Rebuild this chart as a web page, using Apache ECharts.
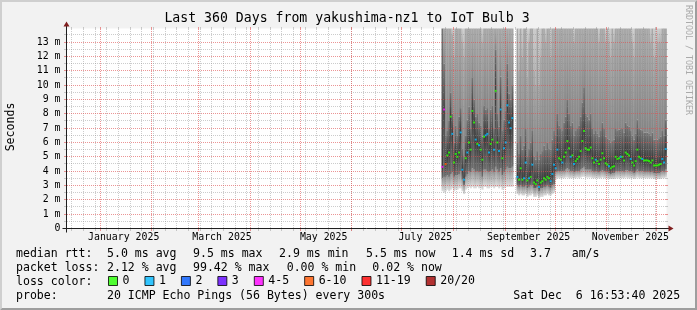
<!DOCTYPE html>
<html><head><meta charset="utf-8">
<script src="https://cdn.jsdelivr.net/npm/echarts@6/dist/echarts.min.js"></script>
<style>html,body{margin:0;padding:0;background:#f2f2f2}#c{width:697px;height:310px}</style>
</head><body><div id="c"></div>
<script>
// ================= DATA =================
const titleText = 'Last 360 Days from yakushima-nz1 to IoT Bulb 3';
const yAxisName = 'Seconds';
const watermark = 'RRDTOOL / TOBI OETIKER';
const periodStart = '2024-12-11T16:53:40Z';
const periodDays = 360;
const yMax = 13.95;                       // ms
const yMajor = [0,1,2,3,4,5,6,7,8,9,10,11,12,13];
const yMinor = [0.5,1.5,2.5,3.5,4.5,5.5,6.5,7.5,8.5,9.5,10.5,11.5,12.5,13.5];
const monthStarts = ['2025-01-01','2025-02-01','2025-03-01','2025-04-01','2025-05-01','2025-06-01',
                     '2025-07-01','2025-08-01','2025-09-01','2025-10-01','2025-11-01','2025-12-01'];
const firstSunday = '2024-12-15';
const monthLabelDates = ['2025-01-15','2025-03-15','2025-05-15','2025-07-15','2025-09-15','2025-11-15'];
const monthLabels = ['January 2025','March 2025','May 2025','July 2025','September 2025','November 2025'];

// loss legend
const lossLabels = ['0','1','2','3','4-5','6-10','11-19','20/20'];
const lossColors = ['#26ff00','#00b8ff','#0059ff','#5e00ff','#ff00ff','#ff5500','#ff0000','#a10000'];

// daily rows (day index since period start), values in ms
// segment 1
const seg1Start = 225;
const seg1Med  = [4.3,8.3,4.5,5.1,5.3,7.8,6.6,4.6,5.2,5.0, 5.3,6.7,4.1,3.4,4.9,5.3,6.0,5.5,8.2,7.4,
                  6.2,5.9,5.8,5.5,4.8,6.4,6.5,6.6,5.3,5.9, 6.2,5.5,9.6,6.0,5.4,8.3,4.9,5.6,6.0,8.6, 7.4,7.0,7.7];
const seg1Loss = [4,4,5,0,0,0,1,0,0,0, 0,1,1,1,0,1,0,0,0,0, 1,0,1,0,0,0,1,1,1,0, 0,1,0,0,1,1,0,1,1,1, 1,1,1];
const seg1Lo   = [2.6,2.5,2.6,2.7,2.6,2.7,2.8,2.6,2.7,2.7, 2.8,2.8,2.6,2.4,2.7,2.8,2.9,2.8,2.9,2.8,
                  2.8,2.9,2.8,2.8,2.7,2.9,2.9,2.8,2.8,2.9, 2.9,2.8,2.9,2.9,2.8,2.9,2.7,2.8,2.9,2.9, 2.9,2.9,2.9];
const seg1P5   = [3.5,3.6,3.6,3.7,3.6,3.8,3.9,3.6,3.7,3.7, 3.8,4.0,3.4,3.0,3.6,3.8,4.0,3.9,4.2,4.1,
                  3.9,4.0,3.9,3.9,3.6,4.1,4.1,4.0,3.9,4.0, 4.1,3.9,4.3,4.1,3.9,4.2,3.7,3.9,4.1,4.3, 4.2,4.2,4.3];
const seg1P12  = [20,11.5,6.5,6.8,7.5,9.5,8.0,6.0,7.2,6.5, 7.8,8.4,5.6,5.0,6.5,7.6,8.5,7.0,10.5,9.0,
                  7.8,8.0,7.4,7.2,6.4,8.6,8.3,8.4,7.0,8.3, 8.6,7.0,12.5,8.0,7.1,10.6,6.8,7.6,8.2,11.5, 9.4,9.0,10.0];
const seg1P15  = [20,20,14,16,20,20,13.5,12,20,15, 20,20,13,12,15,20,20,14.5,20,20,
                  18,20,15,16,13,20,20,20,15,20, 20,16,20,20,15,20,15,20,20,20, 20,20,20];
// segment 2
const seg2Start = 270;
const seg2Med  = [3.6,3.4,4.2,3.4,3.5,4.6,3.35,3.5,3.6,4.45, 3.2,3.1,3.35,2.9,3.2,3.3,3.5,3.4,3.6,3.5,
                  3.3,3.8,4.45,4.2,5.5,4.9,4.8,4.6,5.0,5.3, 6.1,5.6,5.0,5.1,4.5,4.7,4.85,5.0,5.4,6.1,
                  6.8,5.6,5.5,5.5,5.65,4.9,4.6,4.8,4.7,4.5, 4.8,5.25,4.9,4.55,4.45,4.35,4.2,4.3,4.35,5.0,
                  4.85,4.9,5.0,5.0,4.75,5.3,5.2,5.1,4.85,4.6, 4.4,4.7,5.5,5.0,4.9,4.85,4.75,4.75,4.75,4.7,
                  4.6,4.75,4.4,4.4,4.4,4.45,4.5,4.85,4.6,5.55];
const seg2Loss = [1,0,0,0,1,1,0,1,0,1, 0,0,0,1,0,0,0,0,0,0, 1,1,1,1,1,0,0,1,0,0,
                  0,0,1,0,1,0,0,0,0,0, 0,0,0,0,0,0,0,1,0,0, 0,0,0,0,0,1,0,0,0,0,
                  0,0,1,0,0,0,0,0,1,0, 0,0,0,0,0,1,0,0,0,0, 0,0,0,0,0,0,0,1,1,1];
const seg2Lo   = [2.4,2.3,2.4,2.3,2.3,2.4,2.2,2.3,2.3,2.4, 2.2,2.2,2.3,2.1,2.2,2.2,2.3,2.3,2.4,2.3,
                  2.3,2.4,2.5,3.4,3.5,3.5,3.5,3.5,3.5,3.55, 3.55,3.5,3.5,3.5,3.5,3.5,3.55,3.5,3.55,3.6,
                  3.6,3.55,3.55,3.55,3.55,3.5,3.5,3.5,3.5,3.5, 3.5,3.55,3.5,3.5,3.5,3.45,3.45,3.45,3.45,3.5,
                  3.5,3.5,3.5,3.5,3.5,3.55,3.5,3.5,3.5,3.5, 3.45,3.5,3.55,3.5,3.5,3.5,3.5,3.5,3.5,3.5,
                  3.5,3.5,3.45,3.45,3.45,3.45,3.45,3.5,3.5,3.55];
const seg2P5   = [3.0,2.9,3.0,2.9,2.9,3.0,2.8,2.9,3.0,3.0, 2.8,2.8,2.9,2.6,2.8,2.8,2.9,2.9,3.0,2.9,
                  2.8,3.0,3.1,3.9,4.0,4.0,4.0,4.0,4.0,4.1, 4.2,4.1,4.0,4.0,3.9,4.0,4.0,4.0,4.1,4.2,
                  4.3,4.1,4.1,4.1,4.1,4.0,3.95,4.0,3.95,3.9, 4.0,4.05,4.0,3.95,3.9,3.85,3.8,3.85,3.85,4.0,
                  4.0,4.0,4.0,4.0,3.95,4.05,4.05,4.0,4.0,3.95, 3.85,3.95,4.1,4.0,4.0,4.0,3.95,3.95,3.95,3.95,
                  3.9,3.95,3.85,3.85,3.85,3.85,3.9,4.0,3.95,4.1];
const seg2P12  = [6.0,5.2,6.5,5.5,5.8,7.0,5.0,5.6,6.0,6.8, 5.0,4.8,5.4,4.8,5.2,5.4,5.8,5.5,6.0,5.6,
                  5.5,6.2,6.8,6.5,8.0,7.2,7.0,6.8,7.4,7.8, 9.0,8.0,7.2,7.4,6.5,6.8,7.0,7.2,7.8,8.8,
                  9.8,8.0,7.8,7.6,8.0,7.0,6.6,6.8,6.6,6.4, 6.8,7.4,7.0,6.4,6.3,6.2,6.0,6.1,6.2,7.0,
                  6.8,6.9,7.0,7.0,6.7,7.4,7.2,7.1,6.8,6.5, 6.2,6.6,7.6,7.0,6.9,6.8,6.7,6.7,6.7,6.6,
                  6.5,6.7,6.2,6.2,6.2,6.3,6.4,6.8,6.5,7.6];
const seg2P15  = [20,11,20,12,14,20,10.5,13,20,20, 11,10,15,10,12,14,20,13,20,15,
                  12,20,20,16,20,20,18,14,20,20, 20,20,16,20,13,15,20,17,20,20,
                  20,20,18,20,20,15,14,20,16,13, 15,20,20,13,14,13,12,14,13,20,
                  16,20,20,18,14,20,20,17,15,13, 12,14,20,18,16,15,15,14,16,14,
                  13,14,12,12,13,13,13,16,14,20];

// stats text
const rttLabel = 'median rtt:';
const rttStats = ['5.0 ms avg','9.5 ms max','2.9 ms min','5.5 ms now','1.4 ms sd','3.7   am/s'];
const lossLabel = 'packet loss:';
const lossStats = ['2.12 % avg','99.42 % max','0.00 % min','0.02 % now'];
const colorLabel = 'loss color:';
const probeLabel = 'probe:';
const probeText = '20 ICMP Echo Pings (56 Bytes) every 300s';
const stampText = 'Sat Dec\u00a0\u00a06 16:53:40 2025';

// ================= LAYOUT / STYLE =================
const X0 = 66.5, Y0 = 228.5, XS = 600, YS = 200;
const MONO = '"DejaVu Sans Mono", monospace';
const rttX = [107,193,279,366,451.7,530];
const lossX = [107,193,286.7,372.3];
const rowY = [254.3,267.7,281.8,296];
const gridMajor = 'rgba(222,79,79,0.6)';
const gridMinor = 'rgba(143,143,143,0.45)';
const bandColors = [
  ['#8e8e8e','#dedede'],
  ['#3a3a3a','#6e6e6e'],
  ['#747474','#3a3a3a'],
  ['#a8a8a8','#858585'],
  ['#cccccc','#b2b2b2']
];

// ================= BUILD =================
const t0 = Date.parse(periodStart);
const dayOf = s => (Date.parse(s + 'T00:00:00Z') - t0) / 864e5;
const monthStartDays = monthStarts.map(dayOf);
const monthLabelDays = monthLabelDates.map(dayOf);
const weekDays = [];
for (let d = dayOf(firstSunday); d < periodDays; d += 7) weekDays.push(d);

const rows = [];
function addSeg(start, med, loss, lo, p5, p12, p15) {
  med.forEach((m, i) => rows.push({d: start + i, med: m, loss: loss[i], lo: lo[i], p5: p5[i], p12: p12[i], p15: p15[i]}));
}
addSeg(seg1Start, seg1Med, seg1Loss, seg1Lo, seg1P5, seg1P12, seg1P15);
addSeg(seg2Start, seg2Med, seg2Loss, seg2Lo, seg2P5, seg2P12, seg2P15);

const smokeData = rows.map(r => [r.d, r.lo, r.p5, r.med, r.p12, r.p15]);

function grad(c) {
  return new echarts.graphic.LinearGradient(0, 0, 0, 1, [{offset: 0, color: c[0]}, {offset: 1, color: c[1]}]);
}
function renderSmoke(params, api) {
  const d = api.value(0);
  const v = [api.value(1), api.value(2), api.value(3), api.value(4), api.value(5), yMax];
  const x0 = api.coord([d, 0])[0], x1 = api.coord([d + 1, 0])[0];
  const children = [];
  for (let b = 0; b < 5; b++) {
    const a = Math.min(v[b], yMax), t = Math.min(v[b + 1], yMax);
    if (t <= a) continue;
    const ya = api.coord([d, a])[1], yt = api.coord([d, t])[1];
    children.push({type: 'rect', shape: {x: x0, y: yt, width: x1 - x0 + 0.35, height: ya - yt},
      style: {fill: grad(bandColors[b])}});
  }
  return {type: 'group', children};
}
// dotted grid lines, pixel-aligned so the 1-on/1-off pattern stays crisp
const vGridRenderer = color => (params, api) => {
  const v = api.value(0);
  const pb = api.coord([v, 0]), pt = api.coord([v, yMax]);
  const x = Math.floor(pb[0]) + 0.5;
  const rb = Math.floor(pb[1]), rt = Math.floor(pt[1]);
  return {type: 'group', children: [
    {type: 'line', shape: {x1: x, y1: rb + 1, x2: x, y2: rb + 3}, style: {stroke: color, lineWidth: 1}},
    {type: 'line', shape: {x1: x, y1: rt + 1, x2: x, y2: rt - 1}, style: {stroke: color, lineWidth: 1}},
    {type: 'line', shape: {x1: x, y1: rb, x2: x, y2: rt + 1}, style: {stroke: color, lineWidth: 1, lineDash: [1, 1]}}
  ]};
};
const hGridRenderer = color => (params, api) => {
  const v = api.value(1);
  const pl = api.coord([0, v]), pr = api.coord([periodDays, v]);
  const y = Math.floor(pl[1]) + 0.5;
  const cl = Math.floor(pl[0]), cr = Math.floor(pr[0]);
  return {type: 'group', children: [
    {type: 'line', shape: {x1: cl - 2, y1: y, x2: cl, y2: y}, style: {stroke: color, lineWidth: 1}},
    {type: 'line', shape: {x1: cr, y1: y, x2: cr + 2, y2: y}, style: {stroke: color, lineWidth: 1}},
    {type: 'line', shape: {x1: cl + 1, y1: y, x2: cr, y2: y}, style: {stroke: color, lineWidth: 1, lineDash: [1, 1]}}
  ]};
};
const gridSeries = (name, data, render, z) => ({name, type: 'custom', renderItem: render, data, z, silent: true, encode: {x: 0, y: 1}});

const lossSeries = lossLabels.map((name, k) => ({
  name, type: 'scatter', symbol: 'rect', symbolSize: [2, 2], z: 8,
  itemStyle: {color: lossColors[k]},
  data: rows.filter(r => r.loss === k).map(r => [r.d + 0.5, r.med]),
  silent: true
}));

const txt = (text, x, y, opt) => Object.assign({type: 'text', x, y, z: 20, silent: true,
  style: Object.assign({text, font: '11.55px ' + MONO, fill: '#000', textAlign: 'left', textVerticalAlign: 'middle'}, opt || {})});

const graphics = [
  {type: 'polygon', z: 1, shape: {points: [[0,310],[2,308],[2,2],[695,2],[697,0],[0,0]]}, style: {fill: '#cfcfcf'}},
  {type: 'polygon', z: 1, shape: {points: [[2,308],[695,308],[695,2],[697,0],[697,310],[0,310]]}, style: {fill: '#9e9e9e'}},
  txt(titleText, 347, 19, {font: '13.2px ' + MONO, textAlign: 'center'}),
  Object.assign(txt(yAxisName, 10.5, 127, {textAlign: 'center'}), {rotation: Math.PI / 2}),
  Object.assign(txt(watermark, 688, 5, {font: '8.3px ' + MONO, fill: '#aaaaaa'}), {rotation: -Math.PI / 2}),
  {type: 'line', z: 20, shape: {x1: X0 - 4, y1: Y0, x2: X0 + XS + 4, y2: Y0}, style: {stroke: '#1f1f1f', lineWidth: 1}},
  {type: 'line', z: 20, shape: {x1: X0, y1: Y0 + 4, x2: X0, y2: Y0 - YS - 4}, style: {stroke: '#1f1f1f', lineWidth: 1}},
  {type: 'polygon', z: 20, shape: {points: [[X0+XS+2, Y0-3],[X0+XS+2, Y0+3],[X0+XS+7, Y0]]}, style: {fill: '#801f1f'}},
  {type: 'polygon', z: 20, shape: {points: [[X0-3, Y0-YS-2],[X0+3, Y0-YS-2],[X0, Y0-YS-7]]}, style: {fill: '#801f1f'}},
  txt(rttLabel, 16, rowY[0]),
  ...rttStats.map((s, i) => txt(s, rttX[i], rowY[0])),
  txt(lossLabel, 16, rowY[1]),
  ...lossStats.map((s, i) => txt(s, lossX[i], rowY[1])),
  txt(colorLabel, 16, rowY[2]),
  txt(probeLabel, 16, rowY[3]),
  txt(probeText, 107, rowY[3]),
  txt(stampText, 513.3, rowY[3])
];

const chart = echarts.init(document.getElementById('c'), null, {renderer: 'canvas', width: 697, height: 310});
chart.setOption({
  animation: false,
  backgroundColor: '#f2f2f2',
  grid: {left: X0, top: Y0 - YS, width: XS, height: YS, show: true, backgroundColor: '#ffffff', borderWidth: 0},
  xAxis: {
    type: 'value', min: 0, max: periodDays,
    axisLine: {show: false}, axisTick: {show: false}, splitLine: {show: false},
    axisLabel: {customValues: monthLabelDays, margin: 4, color: '#000', fontFamily: MONO, fontSize: 9.9,
      formatter: v => { const i = monthLabelDays.findIndex(m => Math.abs(m - v) < 1e-6); return i >= 0 ? monthLabels[i] : ''; }}
  },
  yAxis: {
    type: 'value', min: 0, max: yMax,
    axisLine: {show: false}, axisTick: {show: false}, splitLine: {show: false},
    axisLabel: {customValues: yMajor, margin: 6, color: '#000', fontFamily: MONO, fontSize: 9.9,
      formatter: v => v === 0 ? '0' : v + ' m'}
  },
  legend: {
    left: 108, top: 275, padding: 0, itemWidth: 9, itemHeight: 9, itemGap: 15, icon: 'rect',
    selectedMode: false, data: lossLabels,
    itemStyle: {borderColor: '#000', borderWidth: 1},
    textStyle: {fontFamily: MONO, fontSize: 11.55, color: '#000'}
  },
  graphic: graphics,
  series: [
    {name: 'smoke', type: 'custom', renderItem: renderSmoke, data: smokeData, z: 2, silent: true,
     encode: {x: 0, y: [1, 2, 3, 4, 5]}},
    gridSeries('weekGrid', weekDays.map(d => [d, 0]), vGridRenderer(gridMinor), 5),
    gridSeries('halfGrid', yMinor.filter(v => v < yMax).map(v => [0, v]), hGridRenderer(gridMinor), 5),
    gridSeries('monthGrid', monthStartDays.map(d => [d, 0]), vGridRenderer(gridMajor), 6),
    gridSeries('unitGrid', yMajor.filter(v => v > 0).map(v => [0, v]), hGridRenderer(gridMajor), 6),
    ...lossSeries
  ]
});
</script>
</body></html>
